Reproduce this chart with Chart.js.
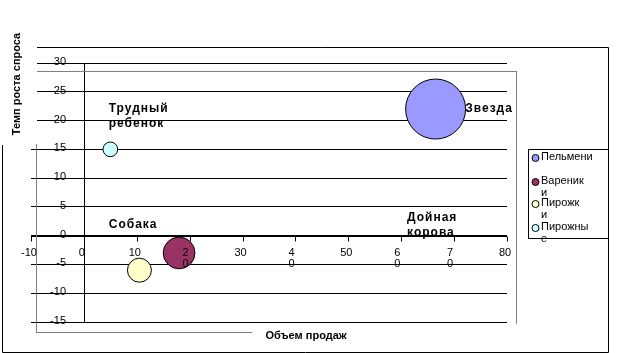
<!DOCTYPE html>
<html><head><meta charset="utf-8">
<script src="https://cdn.jsdelivr.net/npm/chart.js@4/dist/chart.umd.min.js"></script>
<style>html,body{margin:0;padding:0;background:#fff;overflow:hidden}#wrap{width:620px;height:353px;position:relative}</style>
</head><body><div id="wrap"><canvas id="c" width="620" height="353"></canvas></div>
<script>
// ---- data ----
const seriesNames = ['Пельмени', 'Вареники', 'Пирожки', 'Пирожные'];
const legendLines = [['Пельмени'], ['Вареник', 'и'], ['Пирожк', 'и'], ['Пирожны', 'е']];
const salesVolume = [66.5, 18, 10.5, 5];      // x: Объем продаж
const demandGrowth = [22, -3, -6, 15];        // y: Темп роста спроса
const bubbleSize = [100, 28, 16, 6];          // relative bubble size
const xTickValues = [-10, 0, 10, 20, 30, 40, 50, 60, 70, 80];
const xTickLabels = ['-10', '0', '10', ['2', '0'], '30', ['4', '0'], '50', ['6', '0'], ['7', '0'], '80'];
const yTickValues = [30, 25, 20, 15, 10, 5, 0, -5, -10, -15];
const yTickLabels = ['30', '25', '20', '15', '10', '5', '0', '-5', '-10', '-15'];
const quadrantNames = [['Трудный', 'ребенок'], ['Звезда'], ['Собака'], ['Дойная', 'корова']];
const xTitle = 'Объем продаж';
const yTitle = 'Темп роста спроса';

// ---- styles / layout ----
const seriesColors = ['#9999FF', '#993366', '#FFFFCC', '#CCFFFF'];
const MAX_R = 30;
const quadrantAnchors = [{x: 4.7, y: 22.1}, {x: 72.1, y: 22.1}, {x: 4.7, y: 1.9}, {x: 61.1, y: 3.1}];
const FONT = "'Liberation Sans', Arial, sans-serif";

const decor = {
  id: 'decor',
  beforeDatasetsDraw(chart) {
    const {ctx, scales: {x, y}} = chart;
    ctx.save();
    ctx.strokeStyle = '#000'; ctx.lineWidth = 1;
    const x0 = Math.round(x.getPixelForValue(0)) + 0.5;
    const y0 = Math.round(y.getPixelForValue(0)) + 0.5;
    ctx.beginPath();
    ctx.moveTo(x0, Math.round(y.getPixelForValue(30))); ctx.lineTo(x0, Math.round(y.getPixelForValue(-15)) + 1);
    ctx.moveTo(x.left, y0); ctx.lineTo(x.right, y0);
    xTickValues.forEach(v => {
      const px = Math.round(x.getPixelForValue(v)) + 0.5;
      ctx.moveTo(px, y0); ctx.lineTo(px, y0 + 5);
    });
    ctx.stroke();
    ctx.restore();
  },
  afterDraw(chart) {
    const {ctx, scales: {x, y}} = chart;
    ctx.save();
    // plot area (grey)
    ctx.strokeStyle = '#808080'; ctx.lineWidth = 1;
    ctx.strokeRect(36.5, 71.5, 480, 261);
    // white boxes behind titles
    ctx.fillStyle = '#fff';
    ctx.fillRect(0, 0, 37, 144);
    ctx.fillRect(252, 324, 356, 27);
    // outer frame
    ctx.strokeStyle = '#000';
    ctx.beginPath();
    ctx.moveTo(37, 47.5); ctx.lineTo(608.5, 47.5); ctx.lineTo(608.5, 352.5);
    ctx.moveTo(608.5, 352.5); ctx.lineTo(2.5, 352.5); ctx.lineTo(2.5, 145);
    ctx.stroke();
    // y tick labels
    ctx.fillStyle = '#000';
    ctx.font = '11px ' + FONT;
    ctx.textAlign = 'right'; ctx.textBaseline = 'alphabetic';
    yTickValues.forEach((v, i) => {
      ctx.fillText(yTickLabels[i], 66, Math.round(y.getPixelForValue(v)) + 1.5);
    });
    // x tick labels
    ctx.textAlign = 'center'; ctx.textBaseline = 'middle';
    const y0 = y.getPixelForValue(0);
    xTickValues.forEach((v, i) => {
      const lines = [].concat(xTickLabels[i]);
      const px = x.getPixelForValue(v) - (lines.length > 1 ? 4 : 2);
      lines.forEach((t, k) => ctx.fillText(t, px, y0 + 17 + k * 11.5));
    });
    // quadrant labels
    ctx.font = 'bold 12px ' + FONT;
    ctx.letterSpacing = '1px';
    ctx.textAlign = 'left';
    quadrantNames.forEach((lines, i) => {
      const px = x.getPixelForValue(quadrantAnchors[i].x);
      const py = y.getPixelForValue(quadrantAnchors[i].y);
      lines.forEach((t, k) => ctx.fillText(t, px, py + k * 15));
    });
    ctx.letterSpacing = '0px';
    // axis titles
    ctx.font = 'bold 11px ' + FONT;
    ctx.textAlign = 'center';
    ctx.fillText(xTitle, 306, 336);
    ctx.save();
    ctx.translate(17, 84);
    ctx.rotate(-Math.PI / 2);
    ctx.fillText(yTitle, 0, 0);
    ctx.restore();
    // legend
    ctx.fillStyle = '#fff';
    ctx.fillRect(528.5, 149.5, 80, 89);
    ctx.strokeStyle = '#000';
    ctx.strokeRect(528.5, 149.5, 80, 89);
    const rowY = [157, 181, 203, 227];
    ctx.font = '11px ' + FONT;
    ctx.textAlign = 'left';
    legendLines.forEach((lines, i) => {
      ctx.beginPath();
      ctx.arc(535.5, rowY[i] + 1, 3.5, 0, Math.PI * 2);
      ctx.fillStyle = seriesColors[i]; ctx.fill();
      ctx.strokeStyle = '#000'; ctx.stroke();
      ctx.fillStyle = '#000';
      lines.forEach((t, k) => ctx.fillText(t, 541, rowY[i] + k * 12));
    });
    ctx.restore();
  }
};

new Chart(document.getElementById('c'), {
  type: 'bubble',
  data: {
    datasets: seriesNames.map((n, i) => ({
      label: n,
      data: [{x: salesVolume[i], y: demandGrowth[i], r: MAX_R * Math.sqrt(bubbleSize[i] / 100)}],
      backgroundColor: seriesColors[i],
      borderColor: '#000',
      borderWidth: 1,
      hoverRadius: 0
    }))
  },
  options: {
    responsive: false,
    animation: false,
    devicePixelRatio: 1,
    events: [],
    layout: {padding: {left: 26, right: 113, top: 63, bottom: 30}},
    plugins: {legend: {display: false}, tooltip: {enabled: false}},
    scales: {
      x: {type: 'linear', min: -10, max: 80,
          grid: {display: false, drawTicks: false}, border: {display: false}, ticks: {display: false}},
      y: {type: 'linear', min: -15, max: 30,
          ticks: {display: false, stepSize: 5},
          grid: {color: '#000', lineWidth: 1, drawTicks: false}, border: {display: false}}
    }
  },
  plugins: [decor]
});
</script>
</body></html>
